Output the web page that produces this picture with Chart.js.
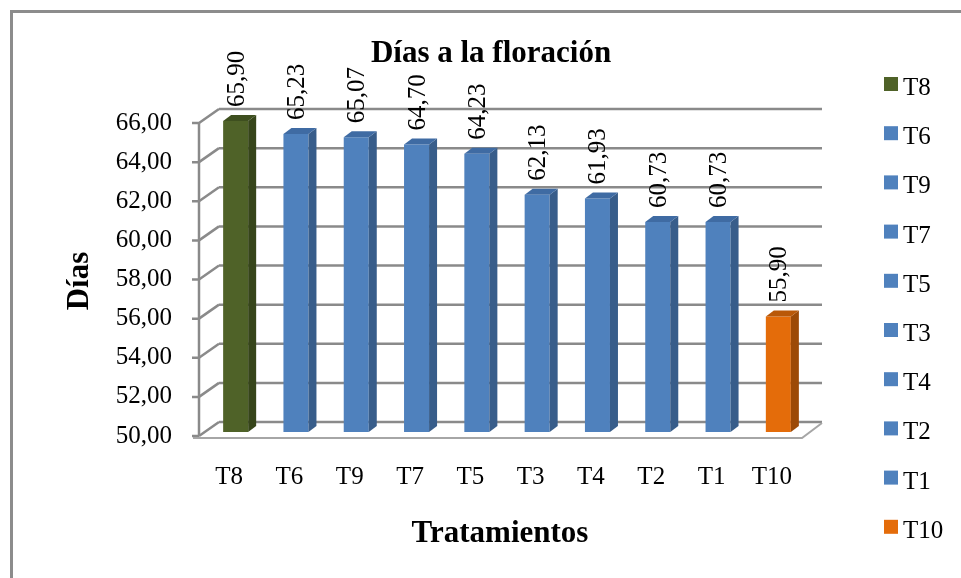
<!DOCTYPE html>
<html>
<head>
<meta charset="utf-8">
<script src="https://cdn.jsdelivr.net/npm/chart.js@4/dist/chart.umd.min.js"></script>
<style>
  html, body { margin: 0; padding: 0; background: #fff; }
  canvas { display: block; }
</style>
</head>
<body>
<canvas id="chartFlor" width="961" height="578"></canvas>
<script>
const categories = ["T8", "T6", "T9", "T7", "T5", "T3", "T4", "T2", "T1", "T10"];
const dias = [65.90, 65.23, 65.07, 64.70, 64.23, 62.13, 61.93, 60.73, 60.73, 55.90];
const yTicks = [50, 52, 54, 56, 58, 60, 62, 64, 66];
const titleText = "Días a la floración";
const yTitle = "Días";
const xTitle = "Tratamientos";

const faceColors = ["#4f6228", "#4f81bd", "#4f81bd", "#4f81bd", "#4f81bd", "#4f81bd", "#4f81bd", "#4f81bd", "#4f81bd", "#e46c0a"];
const sideColors = ["#36451a", "#385d8a", "#385d8a", "#385d8a", "#385d8a", "#385d8a", "#385d8a", "#385d8a", "#385d8a", "#9c4a07"];
const topColors = ["#3e4f1f", "#3f6ba3", "#3f6ba3", "#3f6ba3", "#3f6ba3", "#3f6ba3", "#3f6ba3", "#3f6ba3", "#3f6ba3", "#b95808"];

const SERIF = "'Liberation Serif', 'Times New Roman', serif";
const WALL_DX = 20, WALL_DY = -14;   // back wall offset
const BAR_DX = 8, BAR_DY = -6;       // bar depth
const SHIFT_X = 6.5, SHIFT_Y = -4;   // bars sit a bit inside the box
const fmt = (v) => v.toFixed(2).replace(".", ",");

const boxPlugin = {
  id: "box3d",
  beforeDraw(chart) {
    const ctx = chart.ctx;
    ctx.save();
    ctx.fillStyle = "#fff";
    ctx.fillRect(0, 0, chart.width, chart.height);
    ctx.strokeStyle = "#8c8c8c";
    ctx.lineWidth = 3;
    ctx.strokeRect(11.5, 11.5, chart.width + 20, chart.height + 20);
    ctx.restore();
  },
  beforeDatasetsDraw(chart) {
    const { ctx, chartArea: a, scales } = chart;
    const y = scales.y;
    ctx.save();
    ctx.strokeStyle = "#8a8a8a";
    ctx.lineWidth = 2.5;
    ctx.lineCap = "butt";
    yTicks.forEach((v) => {
      const py = y.getPixelForValue(v);
      ctx.beginPath();
      ctx.moveTo(a.left + WALL_DX, py + WALL_DY);
      ctx.lineTo(a.right + WALL_DX, py + WALL_DY);
      ctx.moveTo(a.left, py);
      ctx.lineTo(a.left + WALL_DX, py + WALL_DY);
      ctx.moveTo(a.left - 7, py);
      ctx.lineTo(a.left, py);
      ctx.stroke();
    });
    ctx.beginPath();
    ctx.moveTo(a.left, a.top);
    ctx.lineTo(a.left, a.bottom);
    ctx.stroke();
    // floor
    ctx.strokeStyle = "#a6a6a6";
    ctx.lineWidth = 2;
    ctx.beginPath();
    ctx.moveTo(a.left - 6, a.bottom + 2);
    ctx.lineTo(a.right, a.bottom + 2);
    ctx.lineTo(a.right + WALL_DX, a.bottom + WALL_DY + 1);
    ctx.stroke();
    ctx.restore();
    ctx.save();
    ctx.translate(SHIFT_X, SHIFT_Y);
  },
  afterDatasetsDraw(chart) {
    const ctx = chart.ctx;
    const meta = chart.getDatasetMeta(0);
    const base = chart.scales.y.getPixelForValue(yTicks[0]);
    meta.data.forEach((bar, i) => {
      const x0 = bar.x - bar.width / 2;
      const x1 = bar.x + bar.width / 2;
      const top = bar.y;
      ctx.fillStyle = sideColors[i];
      ctx.beginPath();
      ctx.moveTo(x1, top);
      ctx.lineTo(x1 + BAR_DX, top + BAR_DY);
      ctx.lineTo(x1 + BAR_DX, base + BAR_DY);
      ctx.lineTo(x1, base);
      ctx.closePath();
      ctx.fill();
      ctx.fillStyle = topColors[i];
      ctx.beginPath();
      ctx.moveTo(x0, top);
      ctx.lineTo(x0 + BAR_DX, top + BAR_DY);
      ctx.lineTo(x1 + BAR_DX, top + BAR_DY);
      ctx.lineTo(x1, top);
      ctx.closePath();
      ctx.fill();
    });
    ctx.restore();

    // value labels, rotated
    ctx.save();
    ctx.fillStyle = "#000";
    ctx.font = "25px " + SERIF;
    ctx.textAlign = "left";
    ctx.textBaseline = "alphabetic";
    meta.data.forEach((bar, i) => {
      ctx.save();
      ctx.translate(bar.x - SHIFT_X + 21, bar.y - 18);
      ctx.rotate(-Math.PI / 2);
      ctx.fillText(fmt(dias[i]), 0, 0);
      ctx.restore();
    });
    ctx.restore();
  },
  afterDraw(chart) {
    const ctx = chart.ctx;
    ctx.save();
    ctx.fillStyle = "#000";
    ctx.textBaseline = "alphabetic";
    ctx.textAlign = "center";
    ctx.font = "bold 31px " + SERIF;
    ctx.fillText(titleText, 491, 62);
    ctx.fillText(xTitle, 500, 542);
    ctx.save();
    ctx.translate(88, 281);
    ctx.rotate(-Math.PI / 2);
    ctx.fillText(yTitle, 0, 0);
    ctx.restore();

    // legend
    ctx.font = "25px " + SERIF;
    ctx.textAlign = "left";
    categories.forEach((c, i) => {
      const cy = 84 + i * 49.2;
      ctx.fillStyle = faceColors[i];
      ctx.fillRect(884, cy - 7, 14, 14);
      ctx.fillStyle = "#000";
      ctx.fillText(c, 903, cy + 11);
    });
    ctx.restore();
  },
};

new Chart(document.getElementById("chartFlor"), {
  type: "bar",
  data: {
    labels: categories,
    datasets: [
      {
        label: "Días",
        data: dias,
        backgroundColor: faceColors,
        borderWidth: 0,
        barPercentage: 0.415,
        categoryPercentage: 1,
      },
    ],
  },
  options: {
    responsive: false,
    devicePixelRatio: 1,
    animation: false,
    layout: { padding: { left: 99, right: 159, top: 123, bottom: 82 } },
    plugins: {
      legend: { display: false },
      title: { display: false },
      tooltip: { enabled: false },
    },
    scales: {
      x: {
        grid: { display: false, drawTicks: false },
        border: { display: false },
        ticks: { color: "#000", font: { family: SERIF, size: 25 }, padding: 26, maxRotation: 0 },
        afterFit: (s) => { s.height = 60; },
      },
      y: {
        min: 50,
        max: 66,
        grid: { display: false, drawTicks: false },
        border: { display: false },
        ticks: {
          stepSize: 2,
          color: "#000",
          font: { family: SERIF, size: 25 },
          padding: 27,
          callback: (v) => fmt(v),
        },
        afterFit: (s) => { s.width = 100; },
      },
    },
  },
  plugins: [boxPlugin],
});
</script>
</body>
</html>
